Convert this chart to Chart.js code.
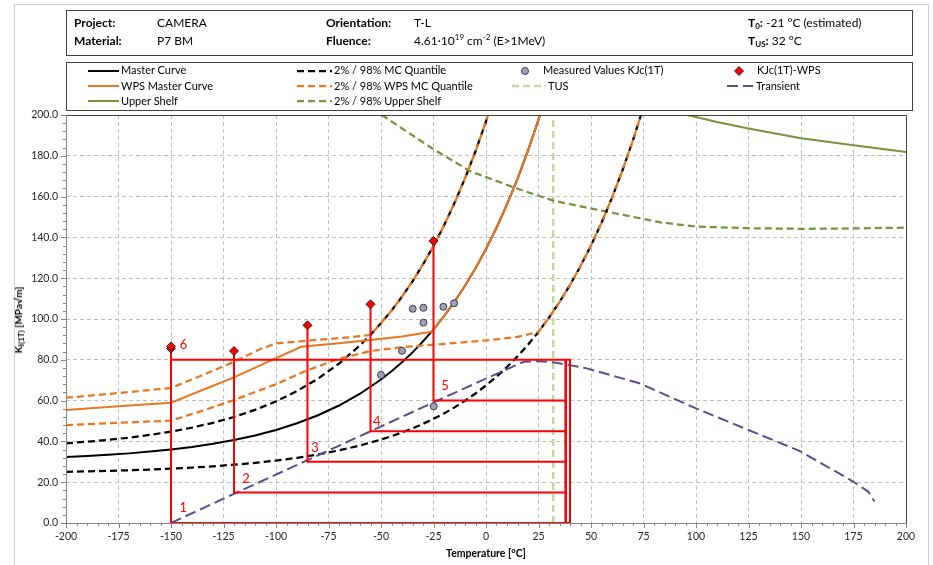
<!DOCTYPE html>
<html>
<head>
<meta charset="utf-8">
<title>Master Curve – CAMERA P7 BM</title>
<script src="https://cdn.jsdelivr.net/npm/chart.js@4.4.1/dist/chart.umd.min.js"></script>
<style>
  html, body { margin: 0; padding: 0; background: #fff; }
  body { position: relative; width: 933px; height: 565px; overflow: hidden;
         font-family: Lato, "Open Sans", "DejaVu Sans", sans-serif; color: #000; }
  #chart { position: absolute; left: 0; top: 0; }
  .frame { position: absolute; left: 14px; top: 4px; width: 913px; height: 570px; border: 1px solid #d0d0d0; }
  .box { position: absolute; border: 1px solid #404040; background: #fff; }
  .t { position: absolute; white-space: nowrap; line-height: 14px; z-index: 2; }
  .hd { font-size: 12px; }
  .b { font-weight: bold; }
  .lg { font-size: 11px; }
  .sub { font-size: 8px; line-height: 0; position: relative; top: 2px; }
  .sup { font-size: 8px; line-height: 0; position: relative; top: -5px; }
  svg.s { position: absolute; z-index: 2; overflow: visible; }
  .ytitle { position: absolute; left: 18px; top: 320px; transform: translate(-50%, -50%) rotate(-90deg);
            font-size: 10px; font-weight: bold; white-space: nowrap; z-index: 2; line-height: 12px; }
  .xtitle { position: absolute; left: 486px; top: 553px; transform: translate(-50%, -50%);
            font-size: 10.5px; font-weight: bold; white-space: nowrap; z-index: 2; }
</style>
</head>
<body>
<div class="frame"></div>
<canvas id="chart" width="933" height="565"></canvas>

<!-- header block -->
<div class="box" style="left:66px;top:10px;width:845px;height:44px"></div>
<div class="t hd b" style="left:74px;top:16px">Project:</div>
<div class="t hd" style="left:157px;top:16px">CAMERA</div>
<div class="t hd b" style="left:326px;top:16px">Orientation:</div>
<div class="t hd" style="left:414px;top:16px">T-L</div>
<div class="t hd" style="left:748px;top:16px"><span class="b">T<span class="sub">0</span>:</span> -21 °C (estimated)</div>
<div class="t hd b" style="left:74px;top:34px">Material:</div>
<div class="t hd" style="left:157px;top:34px">P7 BM</div>
<div class="t hd b" style="left:326px;top:34px">Fluence:</div>
<div class="t hd" style="left:414px;top:34px">4.61·10<span class="sup">19</span> cm<span class="sup">-2</span> (E&gt;1MeV)</div>
<div class="t hd" style="left:748px;top:34px"><span class="b">T<span class="sub">US</span>:</span> 32 °C</div>

<!-- legend block -->
<div class="box" style="left:66px;top:62px;width:845px;height:47px"></div>

<svg class="s" style="left:88px;top:67px" width="31" height="8"><line x1="0" y1="4" x2="31" y2="4" stroke="#000" stroke-width="2"/></svg>
<div class="t lg" style="left:121px;top:63px">Master Curve</div>
<svg class="s" style="left:297px;top:67px" width="35" height="8"><line x1="0" y1="4" x2="35" y2="4" stroke="#000" stroke-width="2.25" stroke-dasharray="7 4"/></svg>
<div class="t lg" style="left:334px;top:63px">2% / 98% MC Quantile</div>
<svg class="s" style="left:520px;top:66px" width="10" height="10"><circle cx="5" cy="5" r="3.5" fill="#a29dbf" stroke="#3f3f3f" stroke-width="1"/></svg>
<div class="t lg" style="left:543px;top:63px">Measured Values KJc(1T)</div>
<svg class="s" style="left:734px;top:66px" width="10" height="10"><polygon points="5,0.5 9.5,5 5,9.5 0.5,5" fill="#ff0000" stroke="#262626" stroke-width="1"/></svg>
<div class="t lg" style="left:757px;top:63px">KJc(1T)-WPS</div>

<svg class="s" style="left:88px;top:82px" width="31" height="8"><line x1="0" y1="4" x2="31" y2="4" stroke="#e87722" stroke-width="2"/></svg>
<div class="t lg" style="left:121px;top:79px">WPS Master Curve</div>
<svg class="s" style="left:297px;top:82px" width="35" height="8"><line x1="0" y1="4" x2="35" y2="4" stroke="#e87722" stroke-width="2.25" stroke-dasharray="7 4"/></svg>
<div class="t lg" style="left:334px;top:79px">2% / 98% WPS MC Quantile</div>
<svg class="s" style="left:512px;top:82px" width="34" height="8"><line x1="0" y1="4" x2="34" y2="4" stroke="#c4d79b" stroke-width="2.5" stroke-dasharray="7 4"/></svg>
<div class="t lg" style="left:548px;top:79px">TUS</div>
<svg class="s" style="left:727px;top:82px" width="26" height="8"><line x1="0" y1="4" x2="26" y2="4" stroke="#5f4a8b" stroke-width="2" stroke-dasharray="11 5"/></svg>
<div class="t lg" style="left:756px;top:79px">Transient</div>

<svg class="s" style="left:88px;top:97px" width="31" height="8"><line x1="0" y1="4" x2="31" y2="4" stroke="#77933c" stroke-width="2"/></svg>
<div class="t lg" style="left:121px;top:94px">Upper Shelf</div>
<svg class="s" style="left:297px;top:97px" width="35" height="8"><line x1="0" y1="4" x2="35" y2="4" stroke="#77933c" stroke-width="2.25" stroke-dasharray="7 4"/></svg>
<div class="t lg" style="left:334px;top:94px">2% / 98% Upper Shelf</div>

<div class="ytitle">K<span class="sub">I(1T)</span> [MPa√m]</div>
<div class="xtitle">Temperature [°C]</div>

<script>
// ---- Master curve (median), T in °C, K in MPa√m ----
const mcTemps = [-200,-190,-180,-170,-160,-150,-140,-130,-120,-110,-100,-90,-80,-70,-60,-50,-45,-40,-35,-30,-25,-20,-15,-10,-5,0,5,10,15,20,25,25.7];
const mcValues = [32.33,32.82,33.41,34.13,34.99,36.04,37.30,38.83,40.67,42.91,45.61,48.87,52.82,57.59,63.37,70.35,74.37,78.79,83.65,89.00,94.88,101.34,108.45,116.27,124.87,134.32,144.72,156.15,168.72,182.55,197.75,200.0];

// ---- 2 % tolerance bound ----
const mc2Temps = [-200,-190,-180,-170,-160,-150,-140,-130,-120,-110,-100,-90,-80,-70,-60,-50,-45,-40,-35,-30,-25,-20,-15,-10,-5,0,5,10,15,20,25,30,35,40,45,50,55,60,65,70,73.8];
const mc2Values = [25.12,25.32,25.56,25.86,26.22,26.65,27.17,27.81,28.57,29.50,30.62,31.97,33.61,35.59,37.98,40.88,42.55,44.38,46.40,48.61,51.05,53.73,56.68,59.92,63.49,67.41,71.72,76.47,81.68,87.41,93.72,100.65,108.28,116.66,125.88,136.02,147.16,159.43,172.91,187.73,200.0];

// ---- 98 % tolerance bound ----
const mc98Temps = [-200,-190,-180,-170,-160,-150,-140,-130,-120,-110,-100,-90,-80,-70,-60,-55,-50,-45,-40,-35,-30,-25,-20,-15,-10,-5,0,1.0];
const mc98Values = [39.08,39.84,40.75,41.85,43.19,44.81,46.76,49.12,51.98,55.43,59.61,64.66,70.77,78.16,87.09,92.23,97.89,104.11,110.95,118.47,126.74,135.83,145.84,156.83,168.93,182.23,196.86,200.0];

// ---- WPS master curve and its quantiles ----
const wpsTemps = [-200,-175,-150,-135,-120,-107,-88,-70,-55,-40,-26,-20,-15,-10,-5,0,5,10,15,20,25,25.7];
const wpsValues = [55.4,57.2,59.0,65.2,71.4,77.5,86.4,88.1,89.7,91.4,93.7,101.34,108.45,116.27,124.87,134.32,144.72,156.15,168.72,182.55,197.75,200.0];
const wpsHighTemps = [-200,-175,-150,-135,-120,-107,-100,-80,-65,-55,-50,-45,-40,-35,-30,-25,-20,-15,-10,-5,0,1.0];
const wpsHighValues = [61.4,63.7,66.2,72.5,79.0,85.5,88.0,89.8,91.0,92.2,97.89,104.11,110.95,118.47,126.74,135.83,145.84,156.83,168.93,182.23,196.86,200.0];
const wpsLowTemps = [-200,-175,-150,-135,-120,-100,-86,-70,-55,-40,-20,0,15,25,30,35,40,45,50,55,60,65,70,73.8];
const wpsLowValues = [48.0,49.1,50.2,55.0,60.3,68.0,74.5,80.5,84.3,86.2,87.8,89.5,91.2,93.72,100.65,108.28,116.66,125.88,136.02,147.16,159.43,172.91,187.73,200.0];

// ---- upper shelf ----
const usTemps = [95.5,100,110,125,150,175,200];
const usValues = [200.0,199.0,196.6,193.4,188.6,185.2,181.8];
const usBandTemps = [-49.7,-48,-25,-7.6,13,32,57.5,83,100,125,150,175,200];
const usBandValues = [200.0,198.9,183.2,172.5,164.6,158.0,152.6,147.4,145.3,144.5,144.2,144.4,144.8];

// ---- upper shelf transition temperature ----
const tusTemps = [32, 32];
const tusValues = [0, 200];

// ---- transient load path ----
const transientTemps = [-150,-120,-85,-52,-25,0,18,25,32,48,73,100,125,150,175,182,185];
const transientValues = [0,14.3,30.8,46.4,59.1,70.8,79.0,79.3,78.8,75.8,68.5,56.2,45.6,35.0,20.2,15.4,10.5];

// ---- measured KJc(1T) ----
const measuredTemps = [-50,-40,-34.9,-29.8,-29.8,-20.3,-15.2,-24.9];
const measuredValues = [72.6,84.4,105.0,105.5,98.2,106.0,107.7,57.2];

// ---- KJc(1T) after warm pre-stress ----
const wpsPointTemps = [-150,-150,-120,-85,-55,-25];
const wpsPointValues = [85.5,86.5,84.3,96.9,107.2,138.2];

// ---- WPS load–cool–fracture paths ----
const pathTemps = [
  [40, 40, -150, -150],
  [38, 38, 38, -120, -120],
  [38, 38, 38, -85, -85],
  [38, 38, 38, -55, -55],
  [38, 38, 38, -25, -25],
  [40, 40, -150, -150]
];
const pathValues = [
  [80, 0, 0, 85.5],
  [0, 80, 15, 15, 84.3],
  [0, 80, 30, 30, 96.9],
  [0, 80, 45, 45, 107.2],
  [0, 80, 60, 60, 138.2],
  [0, 80, 80, 86.5]
];
const pathNames = ['1', '2', '3', '4', '5', '6'];
const pathLabelTemps = [-144.1, -114.3, -81.4, -52.0, -19.5, -144.0];
const pathLabelValues = [7.2, 21.6, 37.1, 49.7, 67.3, 87.3];

// ---- axis ticks ----
const xTickStep = 25, xMinorStep = 5;
const yTickStep = 20, yMinorStep = 4;

const ORANGE = '#e87722', GREEN = '#77933c', PURPLE = '#5f4a8b', RED = '#ff0000';
const DASH = [7, 4];

const xy = (ts, ks) => ts.map((t, i) => ({ x: t, y: ks[i] }));
const curve = (label, ts, ks, color, width, dash) => ({
  label, data: xy(ts, ks), showLine: true, borderColor: color, borderWidth: width,
  borderDash: dash || [], pointRadius: 0, pointHoverRadius: 0, fill: false, tension: 0
});

const datasets = [
  { label: 'KJc(1T)-WPS', data: xy(wpsPointTemps, wpsPointValues), showLine: false,
    pointStyle: 'rectRot', pointRadius: 4.5, backgroundColor: RED, borderColor: '#262626', borderWidth: 1 },
  { label: 'Measured Values KJc(1T)', data: xy(measuredTemps, measuredValues), showLine: false,
    pointStyle: 'circle', pointRadius: 3.5, backgroundColor: '#a29dbf', borderColor: '#3f3f3f', borderWidth: 1 },
  ...pathTemps.map((ts, i) => curve('path ' + pathNames[i], ts, pathValues[i], RED, 2)),
  curve('Transient', transientTemps, transientValues, PURPLE, 2, [11, 5]),
  curve('WPS Master Curve', wpsTemps, wpsValues, ORANGE, 2),
  curve('98% WPS MC Quantile', wpsHighTemps, wpsHighValues, ORANGE, 2.25, DASH),
  curve('2% WPS MC Quantile', wpsLowTemps, wpsLowValues, ORANGE, 2.25, DASH),
  curve('Master Curve', mcTemps, mcValues, '#000', 2),
  curve('98% MC Quantile', mc98Temps, mc98Values, '#000', 2.25, DASH),
  curve('2% MC Quantile', mc2Temps, mc2Values, '#000', 2.25, DASH),
  curve('Upper Shelf', usTemps, usValues, GREEN, 2),
  curve('2% / 98% Upper Shelf', usBandTemps, usBandValues, GREEN, 2.25, DASH),
  curve('TUS', tusTemps, tusValues, '#c4d79b', 2.5, [7, 4])
];

// plot frame, outside tick marks and path numbers
const decorations = {
  id: 'decorations',
  afterDatasetsDraw(chart) {
    const { ctx, scales: { x, y } } = chart;
    ctx.save();
    ctx.fillStyle = RED;
    ctx.font = '13px Lato, sans-serif';
    ctx.textAlign = 'center';
    ctx.textBaseline = 'middle';
    pathNames.forEach((n, i) => {
      ctx.fillText(n, x.getPixelForValue(pathLabelTemps[i]), y.getPixelForValue(pathLabelValues[i]));
    });
    ctx.restore();
  },
  afterDraw(chart) {
    const { ctx, chartArea: a, scales: { x, y } } = chart;
    ctx.save();
    ctx.lineWidth = 1;
    // top and right border
    ctx.strokeStyle = '#404040';
    ctx.beginPath();
    ctx.moveTo(a.left, a.top + 0.5); ctx.lineTo(a.right + 0.5, a.top + 0.5); ctx.lineTo(a.right + 0.5, a.bottom);
    ctx.stroke();
    // axis lines
    ctx.strokeStyle = '#868686';
    ctx.beginPath();
    ctx.moveTo(a.left + 0.5, a.top); ctx.lineTo(a.left + 0.5, a.bottom + 0.5); ctx.lineTo(a.right, a.bottom + 0.5);
    ctx.stroke();
    // tick marks
    ctx.beginPath();
    for (let v = x.min; v <= x.max + 1e-9; v += xMinorStep) {
      const px = Math.round(x.getPixelForValue(v)) + 0.5;
      const len = (Math.abs(v % xTickStep) < 1e-9) ? 5 : 3;
      ctx.moveTo(px, a.bottom); ctx.lineTo(px, a.bottom + len);
    }
    for (let v = y.min; v <= y.max + 1e-9; v += yMinorStep) {
      const py = Math.round(y.getPixelForValue(v)) + 0.5;
      const len = (Math.abs(v % yTickStep) < 1e-9) ? 5 : 3;
      ctx.moveTo(a.left - len, py); ctx.lineTo(a.left, py);
    }
    ctx.stroke();
    ctx.restore();
  }
};

const tickFont = { family: 'Lato, sans-serif', size: 10.5 };

new Chart(document.getElementById('chart'), {
  type: 'scatter',
  data: { datasets },
  options: {
    responsive: false,
    animation: false,
    devicePixelRatio: 1,
    layout: { padding: { top: 115, right: 27, bottom: 0, left: 0 } },
    plugins: { legend: { display: false }, tooltip: { enabled: false } },
    events: [],
    scales: {
      x: {
        type: 'linear', min: -200, max: 200,
        ticks: { stepSize: xTickStep, font: tickFont, color: '#262626', padding: 7, maxRotation: 0, autoSkip: false },
        grid: { color: '#bfbfbf', lineWidth: 1, drawTicks: false },
        border: { display: false, dash: [4, 3] },
        afterFit(s) { s.height = 42; s.paddingLeft = 0; s.paddingRight = 0; }
      },
      y: {
        type: 'linear', min: 0, max: 200,
        ticks: { stepSize: yTickStep, font: tickFont, color: '#262626', padding: 8,
                 callback: v => Number(v).toFixed(1) },
        grid: { color: '#bfbfbf', lineWidth: 1, drawTicks: false },
        border: { display: false, dash: [4, 3] },
        afterFit(s) { s.width = 66; s.paddingTop = 0; s.paddingBottom = 0; }
      }
    }
  },
  plugins: [decorations]
});
</script>
</body>
</html>
